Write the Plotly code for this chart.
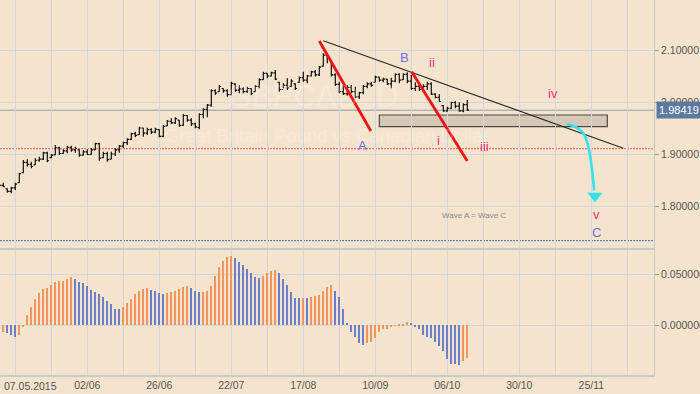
import plotly.graph_objects as go

# ---------------- data ----------------
bar_index = list(range(-4, 114))

high = [1.8468, 1.8449, 1.8340, 1.8372, 1.8449, 1.8641, 1.8885, 1.8898, 1.8853, 1.8917,
        1.8949, 1.9045, 1.9045, 1.9000, 1.9173, 1.9141, 1.9090, 1.9160, 1.9160, 1.9141,
        1.9090, 1.9077, 1.9090, 1.9109, 1.9218, 1.9218, 1.9045, 1.9045, 1.9045, 1.9109,
        1.9173, 1.9237, 1.9301, 1.9410, 1.9430, 1.9526, 1.9507, 1.9507, 1.9494, 1.9507,
        1.9474, 1.9558, 1.9654, 1.9686, 1.9705, 1.9654, 1.9769, 1.9750, 1.9686, 1.9603,
        1.9782, 1.9878, 1.9962, 2.0244, 2.0244, 2.0327, 2.0263, 2.0244, 2.0391, 2.0359,
        2.0327, 2.0282, 2.0295, 2.0263, 2.0327, 2.0455, 2.0584, 2.0552, 2.0584, 2.0616,
        2.0391, 2.0359, 2.0455, 2.0436, 2.0359, 2.0488, 2.0584, 2.0520, 2.0603, 2.0616,
        2.0693, 2.0936, 2.0936, 2.0808, 2.0552, 2.0391, 2.0327, 2.0327, 2.0327, 2.0295,
        2.0199, 2.0327, 2.0378, 2.0391, 2.0507, 2.0487, 2.0468, 2.0442, 2.0468, 2.0551,
        2.0551, 2.0551, 2.0571, 2.0520, 2.0378, 2.0327, 2.0340, 2.0391, 2.0378, 2.0167,
        2.0148, 1.9942, 1.9910, 2.0007, 2.0019, 1.9994, 1.9974, 2.0039]

low = [1.8372, 1.8359, 1.8257, 1.8244, 1.8308, 1.8449, 1.8628, 1.8756, 1.8724, 1.8789,
       1.8853, 1.8885, 1.8840, 1.8917, 1.8981, 1.8981, 1.9000, 1.9013, 1.9045, 1.9026,
       1.8949, 1.8968, 1.8981, 1.8981, 1.9077, 1.8872, 1.8917, 1.8853, 1.8898, 1.8962,
       1.9026, 1.9109, 1.9173, 1.9269, 1.9321, 1.9365, 1.9333, 1.9365, 1.9385, 1.9397,
       1.9321, 1.9321, 1.9539, 1.9577, 1.9577, 1.9526, 1.9539, 1.9622, 1.9539, 1.9494,
       1.9474, 1.9686, 1.9705, 1.9910, 2.0135, 2.0199, 2.0180, 2.0103, 2.0135, 2.0199,
       2.0167, 2.0167, 2.0180, 2.0135, 2.0199, 2.0263, 2.0423, 2.0455, 2.0488, 2.0423,
       2.0199, 2.0263, 2.0231, 2.0295, 2.0231, 2.0372, 2.0391, 2.0359, 2.0488, 2.0488,
       2.0500, 2.0680, 2.0744, 2.0488, 2.0308, 2.0167, 2.0135, 2.0122, 2.0167, 2.0071,
       2.0058, 2.0148, 2.0263, 2.0295, 2.0378, 2.0391, 2.0378, 2.0327, 2.0263, 2.0378,
       2.0359, 2.0423, 2.0359, 2.0231, 2.0212, 2.0212, 2.0186, 2.0231, 2.0135, 2.0071,
       2.0007, 1.9814, 1.9814, 1.9865, 1.9878, 1.9814, 1.9801, 1.9830]

open_ = [1.8450, 1.8395, 1.8330, 1.8280, 1.8350, 1.8450, 1.8640, 1.8840, 1.8800, 1.8790,
         1.8880, 1.8900, 1.9020, 1.8930, 1.8985, 1.9120, 1.9010, 1.9060, 1.9130, 1.9080,
         1.9080, 1.8980, 1.9040, 1.8990, 1.9080, 1.9200, 1.8930, 1.9010, 1.8900, 1.9000,
         1.9080, 1.9150, 1.9220, 1.9280, 1.9390, 1.9370, 1.9500, 1.9400, 1.9470, 1.9420,
         1.9470, 1.9340, 1.9540, 1.9630, 1.9600, 1.9650, 1.9550, 1.9740, 1.9650, 1.9580,
         1.9510, 1.9760, 1.9860, 1.9940, 2.0220, 2.0200, 2.0260, 2.0220, 2.0140, 2.0350,
         2.0230, 2.0250, 2.0200, 2.0260, 2.0200, 2.0300, 2.0430, 2.0550, 2.0500, 2.0560,
         2.0380, 2.0240, 2.0320, 2.0300, 2.0350, 2.0380, 2.0470, 2.0420, 2.0500, 2.0580,
         2.0520, 2.0690, 2.0900, 2.0800, 2.0520, 2.0340, 2.0200, 2.0160, 2.0280, 2.0200,
         2.0100, 2.0180, 2.0300, 2.0350, 2.0380, 2.0480, 2.0420, 2.0440, 2.0350, 2.0400,
         2.0530, 2.0430, 2.0530, 2.0400, 2.0260, 2.0300, 2.0240, 2.0300, 2.0350, 2.0150,
         2.0090, 1.9930, 1.9830, 1.9880, 1.9990, 1.9920, 1.9830, 1.9950]

close = [1.8395, 1.8370, 1.8280, 1.8350, 1.8420, 1.8620, 1.8840, 1.8800, 1.8760, 1.8880,
         1.8900, 1.9020, 1.8870, 1.8980, 1.9120, 1.9010, 1.9060, 1.9130, 1.9080, 1.9110,
         1.8980, 1.9040, 1.8990, 1.9080, 1.9200, 1.8920, 1.9010, 1.8890, 1.9000, 1.9080,
         1.9150, 1.9220, 1.9280, 1.9390, 1.9360, 1.9500, 1.9400, 1.9470, 1.9420, 1.9480,
         1.9340, 1.9530, 1.9630, 1.9600, 1.9680, 1.9550, 1.9740, 1.9650, 1.9580, 1.9520,
         1.9760, 1.9860, 1.9940, 2.0220, 2.0170, 2.0300, 2.0220, 2.0140, 2.0360, 2.0230,
         2.0250, 2.0200, 2.0260, 2.0160, 2.0300, 2.0430, 2.0550, 2.0500, 2.0560, 2.0440,
         2.0240, 2.0320, 2.0270, 2.0400, 2.0260, 2.0470, 2.0420, 2.0500, 2.0580, 2.0520,
         2.0670, 2.0900, 2.0880, 2.0520, 2.0340, 2.0200, 2.0160, 2.0280, 2.0200, 2.0100,
         2.0180, 2.0300, 2.0350, 2.0320, 2.0480, 2.0420, 2.0440, 2.0350, 2.0400, 2.0530,
         2.0420, 2.0530, 2.0400, 2.0260, 2.0300, 2.0240, 2.0300, 2.0350, 2.0150, 2.0090,
         2.0010, 1.9830, 1.9880, 1.9990, 1.9920, 1.9830, 1.9950, 1.98419]

osc_hist = [-0.0065, -0.0064, -0.0078, -0.0098, -0.0118, -0.0092, -0.0013, 0.0098, 0.0183, 0.0261,
            0.0320, 0.0360, 0.0369, 0.0399, 0.0422, 0.0438, 0.0439, 0.0451, 0.0471, 0.0458,
            0.0428, 0.0412, 0.0389, 0.0350, 0.0330, 0.0310, 0.0281, 0.0242, 0.0212, 0.0163,
            0.0162, 0.0176, 0.0216, 0.0261, 0.0304, 0.0340, 0.0353, 0.0363, 0.0350, 0.0340,
            0.0320, 0.0310, 0.0314, 0.0324, 0.0340, 0.0353, 0.0379, 0.0389, 0.0369, 0.0333,
            0.0326, 0.0328, 0.0336, 0.0389, 0.0487, 0.0575, 0.0634, 0.0672, 0.0677, 0.0655,
            0.0616, 0.0588, 0.0556, 0.0516, 0.0477, 0.0467, 0.0487, 0.0510, 0.0536, 0.0546,
            0.0510, 0.0451, 0.0399, 0.0324, 0.0272, 0.0270, 0.0272, 0.0270, 0.0275, 0.0291,
            0.0294, 0.0333, 0.0373, 0.0392, 0.0340, 0.0281, 0.0163, 0.0026, -0.0065, -0.0118,
            -0.0170, -0.0196, -0.0170, -0.0167, -0.0127, -0.0065, -0.0033, -0.0032, -0.0020, 0.0002,
            0.0006, 0.0016, 0.0033, 0.0020, -0.0013, -0.0039, -0.0092, -0.0118, -0.0127, -0.0167,
            -0.0199, -0.0255, -0.0333, -0.0376, -0.0382, -0.0392, -0.0353, -0.0317]

date_labels = ["07.05.2015", "02/06", "26/06", "22/07", "17/08", "10/09", "06/10", "30/10", "25/11"]
date_label_index = [0, 18, 36, 54, 72, 90, 108, 126, 144]
grid_index = list(range(0, 154, 9))

last_price = 1.98419
support_level = 1.9102
target_level = 1.7333

# drawn analysis objects (bar index, price)
leg_a_x, leg_a_y = [76.0, 88.9], [2.1173, 1.9442]
leg_i_x, leg_i_y = [99.1, 113.0], [2.0583, 1.8865]
trend_x, trend_y = [77.0, 152.0], [2.1179, 1.9110]
zone_x, zone_y = [91.0, 148.0], [1.9525, 1.9750]
arrow_x = [137.85, 139.5, 142.0, 143.25, 144.1, 144.7]
arrow_y = [1.9571, 1.9538, 1.9398, 1.9141, 1.8756, 1.8300]
arrow_tip = (144.9, 1.8192)

wave_labels = [("A", 86.7, 1.9154, "blue"), ("B", 97.4, 2.0865, "blue"),
               ("ii", 104.2, 2.0769, "pink"), ("i", 105.7, 1.9269, "pink"),
               ("iii", 117.4, 1.9135, "pink"), ("iv", 134.4, 2.0173, "pink"),
               ("v", 145.2, 1.7846, "pink"), ("C", 145.4, 1.7481, "blue")]
note_text, note_x, note_y = "Wave A = Wave C", 114.7, 1.7808

# ---------------- styling ----------------
BG = "#f5e4cd"
GRID = "#d3d6dc"
FONT = "Liberation Sans, Arial, sans-serif"
TICK_FONT = dict(family=FONT, size=10.5, color="#555555")
ORANGE = "#f2955c"
BLUE = "#6b80c8"
LBL_COL = {"blue": "#6b6bf2", "pink": "#f0307a"}

hist_colors = []
for k, v in enumerate(osc_hist):
    prev = osc_hist[k - 1] if k > 0 else v
    hist_colors.append(ORANGE if v >= prev else BLUE)

fig = go.Figure()

fig.add_trace(go.Ohlc(
    x=bar_index, open=open_, high=high, low=low, close=close,
    increasing=dict(line=dict(color="#111111", width=1.2)),
    decreasing=dict(line=dict(color="#111111", width=1.2)),
    tickwidth=0.45, xaxis="x", yaxis="y", hoverinfo="skip", showlegend=False))

fig.add_trace(go.Bar(
    x=bar_index, y=osc_hist, width=0.32, marker=dict(color=hist_colors, line=dict(width=0)),
    xaxis="x2", yaxis="y2", hoverinfo="skip", showlegend=False))

# analysis lines
fig.add_trace(go.Scatter(x=trend_x, y=trend_y, mode="lines", line=dict(color="#2b2b2b", width=1.2),
                         xaxis="x", yaxis="y", showlegend=False, hoverinfo="skip"))
fig.add_trace(go.Scatter(x=leg_a_x, y=leg_a_y, mode="lines", line=dict(color="#f01414", width=2.8),
                         xaxis="x", yaxis="y", showlegend=False, hoverinfo="skip"))
fig.add_trace(go.Scatter(x=leg_i_x, y=leg_i_y, mode="lines", line=dict(color="#f01414", width=2.8),
                         xaxis="x", yaxis="y", showlegend=False, hoverinfo="skip"))
fig.add_trace(go.Scatter(x=arrow_x, y=arrow_y, mode="lines", line=dict(color="#33e3ea", width=2.6, shape="spline"),
                         xaxis="x", yaxis="y", showlegend=False, hoverinfo="skip"))
fig.add_trace(go.Scatter(x=[arrow_tip[0]], y=[arrow_tip[1]], mode="markers",
                         marker=dict(symbol="triangle-down", size=13, color="#33e3ea", line=dict(width=0)),
                         xaxis="x", yaxis="y", showlegend=False, hoverinfo="skip"))

shapes = [
    dict(type="rect", xref="x", yref="y", x0=zone_x[0], x1=zone_x[1], y0=zone_y[0], y1=zone_y[1],
         fillcolor="#d5c9b6", line=dict(color="#4a4a4a", width=1.2), layer="below"),
    dict(type="line", xref="paper", yref="y", x0=0, x1=1, y0=last_price, y1=last_price,
         line=dict(color="#8e9bb0", width=1), layer="below"),
    dict(type="line", xref="paper", yref="y", x0=0, x1=1, y0=support_level, y1=support_level,
         line=dict(color="#ff5a5a", width=1, dash="2px,1px"), layer="below"),
    dict(type="line", xref="paper", yref="y", x0=0, x1=1, y0=target_level, y1=target_level,
         line=dict(color="#2f6fc0", width=1, dash="2px,1px"), layer="below"),
]

annotations = []
# watermark (drawn first so that it sits underneath the labels)
annotations.append(dict(text="GBPCAD, D", x=0.48, y=2.0104, xref="paper", yref="y", showarrow=False,
                        font=dict(family=FONT, size=31, color="rgba(255,255,255,0.2)")))
annotations.append(dict(text="Great Britain Pound vs Canadian Dollar", x=0.5, y=1.9360, xref="paper", yref="y",
                        showarrow=False, font=dict(family=FONT, size=18.5, color="rgba(255,255,255,0.2)")))
for txt, xx, yy, col in wave_labels:
    annotations.append(dict(text=txt, x=xx, y=yy, xref="x", yref="y", showarrow=False,
                            font=dict(family=FONT, size=13, color=LBL_COL[col])))
annotations.append(dict(text=note_text, x=note_x, y=note_y, xref="x", yref="y", showarrow=False,
                        font=dict(family=FONT, size=8, color="#888888")))
# last price tag
annotations.append(dict(text=f"{last_price:.5f}", x=1, y=last_price, xref="paper", yref="y", xanchor="left",
                        yanchor="middle", xshift=2, showarrow=False, bgcolor="#5b7a9e", borderpad=2,
                        font=dict(family=FONT, size=11, color="#ffffff")))
# first date label, kept inside the page
annotations.append(dict(text=date_labels[0], x=-3.4, y=0, xref="x2", yref="paper", xanchor="left",
                        yanchor="top", yshift=-3, showarrow=False, font=TICK_FONT))

tick_text = []
for g in grid_index:
    if g in date_label_index and g != date_label_index[0]:
        tick_text.append(date_labels[date_label_index.index(g)])
    else:
        tick_text.append("")

xr = [-3.825, 159.675]
fig.update_layout(
    width=700, height=394,
    margin=dict(l=0, r=46, t=0, b=19, autoexpand=False),
    paper_bgcolor=BG, plot_bgcolor=BG,
    shapes=shapes, annotations=annotations,
    showlegend=False, bargap=0,
    xaxis=dict(domain=[0, 1], range=xr, anchor="y", tickvals=grid_index, showticklabels=False,
               showgrid=True, gridcolor=GRID, gridwidth=1, zeroline=False, ticks="", automargin=False,
               rangeslider=dict(visible=False)),
    xaxis2=dict(domain=[0, 1], range=xr, anchor="y2", matches="x", tickvals=grid_index, ticktext=tick_text,
                showgrid=True, gridcolor=GRID, gridwidth=1, zeroline=False, ticks="", automargin=False,
                showline=True, linecolor="#c9c9c9", linewidth=1.5, mirror=True, tickfont=TICK_FONT,
                rangeslider=dict(visible=False)),
    yaxis=dict(domain=[1 / 3, 1], range=[1.71538, 2.19615], side="right", anchor="x", automargin=False,
               tickvals=[1.8, 1.9, 2.0, 2.1], ticktext=["1.80000", "1.90000", "2.00000", "2.10000"],
               showgrid=True, gridcolor=GRID, zeroline=False, ticks="outside", ticklen=4, tickcolor="#999999",
               showline=True, linecolor="#c9c9c9", tickfont=TICK_FONT),
    yaxis2=dict(domain=[0, 1 / 3], range=[-0.04873, 0.07382], side="right", anchor="x2", automargin=False,
                tickvals=[0.0, 0.05], ticktext=["0.000000", "0.050000"],
                showgrid=True, gridcolor=GRID, zeroline=False, ticks="outside", ticklen=4, tickcolor="#999999",
                showline=True, linecolor="#c9c9c9", tickfont=TICK_FONT),
)

fig.write_html("out.html", config={"displayModeBar": False},
               post_script="document.body.style.margin='0px';document.body.style.overflow='hidden';"
                           "document.body.style.backgroundColor='" + BG + "';")
